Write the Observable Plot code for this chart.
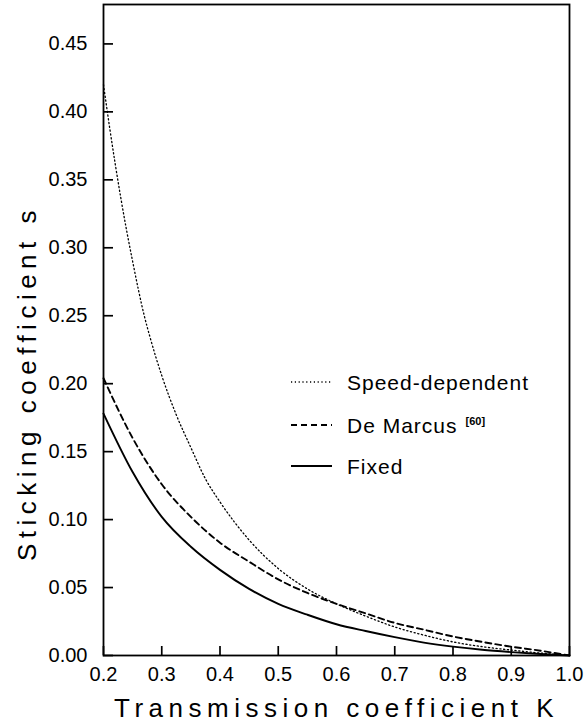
<!DOCTYPE html>
<html>
<head>
<meta charset="utf-8">
<script src="https://cdn.jsdelivr.net/npm/d3@7"></script>
<script src="https://cdn.jsdelivr.net/npm/@observablehq/plot@0.6"></script>
<style>
  html, body { margin: 0; padding: 0; background: #fff; }
  #chart { position: relative; width: 587px; height: 724px; }
</style>
</head>
<body>
<div id="chart"></div>
<script>
// ---- Data ----
const kGrid = [0.20, 0.25, 0.30, 0.35, 0.40, 0.45, 0.50, 0.55, 0.60, 0.65, 0.70, 0.75, 0.80, 0.85, 0.90, 0.95, 1.00];
const fixedS = [0.178, 0.135, 0.102, 0.080, 0.063, 0.049, 0.038, 0.030, 0.023, 0.018, 0.0135, 0.0095, 0.0065, 0.0042, 0.0025, 0.0011, 0];
const deMarcusS = [0.204, 0.160, 0.126, 0.102, 0.083, 0.069, 0.056, 0.046, 0.038, 0.031, 0.024, 0.019, 0.014, 0.010, 0.0065, 0.0035, 0];
const kSpeed = [0.20, 0.21, 0.22, 0.23, 0.24, 0.25, 0.26, 0.27, 0.28, 0.30, 0.325, 0.35, 0.375, 0.40, 0.45, 0.50, 0.55, 0.60, 0.65, 0.70, 0.75, 0.80, 0.85, 0.90, 0.95, 1.00];
const speedS = [0.420, 0.390, 0.362, 0.336, 0.312, 0.290, 0.269, 0.250, 0.234, 0.206, 0.177, 0.153, 0.130, 0.113, 0.085, 0.064, 0.049, 0.038, 0.029, 0.021, 0.015, 0.010, 0.0065, 0.004, 0.0018, 0];

const xTicks = [0.2, 0.3, 0.4, 0.5, 0.6, 0.7, 0.8, 0.9, 1.0];
const yTicks = [0.00, 0.05, 0.10, 0.15, 0.20, 0.25, 0.30, 0.35, 0.40, 0.45];
const xTitle = "Transmission coefficient K";
const yTitle = "Sticking coefficient s";
const legendLabels = ["Speed-dependent", "De Marcus", "Fixed"];
const legendRef = "[60]";

// tables built from the arrays
const fixedData = kGrid.map((k, i) => ({k, s: fixedS[i]}));
const deMarcusData = kGrid.map((k, i) => ({k, s: deMarcusS[i]}));
const speedData = kSpeed.map((k, i) => ({k, s: speedS[i]}));

// ---- Layout ----
const W = 587, H = 724;
const mT = 4, mB = 69, mL = 103, mR = 18;
const plotW = W - mL - mR, plotH = H - mT - mB;
const font = "'Liberation Sans', Arial, sans-serif";

const styles = {
  speed: {strokeDasharray: "1.2,2.6", strokeWidth: 1.3},
  demarcus: {strokeDasharray: "6,4", strokeWidth: 1.9},
  fixed: {strokeDasharray: null, strokeWidth: 1.9}
};

const chart = Plot.plot({
  width: W, height: H,
  marginTop: mT, marginBottom: mB, marginLeft: mL, marginRight: mR,
  style: {fontFamily: font, fontSize: "20px", color: "#000", background: "#fff"},
  x: {domain: [0.2, 1.0], ticks: xTicks, tickFormat: d3.format(".1f"), tickSize: 0, tickPadding: 11, label: null},
  y: {domain: [0, 0.479], ticks: yTicks, tickFormat: d3.format(".2f"), tickSize: 0, tickPadding: 16, label: null},
  marks: [
    Plot.line(speedData, {x: "k", y: "s", curve: "monotone-x", stroke: "#000", ...styles.speed}),
    Plot.line(deMarcusData, {x: "k", y: "s", curve: "monotone-x", stroke: "#000", ...styles.demarcus}),
    Plot.line(fixedData, {x: "k", y: "s", curve: "monotone-x", stroke: "#000", ...styles.fixed}),
    Plot.frame({stroke: "#000", strokeWidth: 1.8}),
    // inward ticks
    Plot.ruleX(xTicks, {x: d => d, insetTop: plotH - 9, stroke: "#000", strokeWidth: 1.7}),
    Plot.ruleY(yTicks, {y: d => d, insetRight: plotW - 10, stroke: "#000", strokeWidth: 1.7}),
    Plot.text([xTitle], {text: d => d, frameAnchor: "bottom", lineAnchor: "bottom", textAnchor: "middle", dy: 61, fontSize: 26, fill: "#000"}),
    Plot.text([yTitle], {text: d => d, frameAnchor: "left", textAnchor: "middle", lineAnchor: "middle", rotate: -90, dx: -76, dy: 53, fontSize: 26, fill: "#000"})
  ]
});

document.getElementById("chart").appendChild(chart);
const svg = d3.select(chart);

// letter spacing for the axis titles
svg.selectAll("text").filter(function() { return this.textContent === xTitle || this.textContent === yTitle; })
  .style("letter-spacing", "5.5px");

// ---- Legend (inside the plot) ----
const lg = svg.append("g").attr("font-family", font).attr("font-size", 21).attr("fill", "#000").attr("text-anchor", "start");
const rowY = [382, 425, 466];
const keys = ["speed", "demarcus", "fixed"];
legendLabels.forEach((lab, i) => {
  const st = styles[keys[i]];
  lg.append("line")
    .attr("x1", 291).attr("x2", 332).attr("y1", rowY[i]).attr("y2", rowY[i])
    .attr("stroke", "#000").attr("stroke-width", st.strokeWidth)
    .attr("stroke-dasharray", st.strokeDasharray);
  const t = lg.append("text").attr("x", 347).attr("y", rowY[i] + 7.5)
    .attr("text-anchor", "start")
    .style("letter-spacing", "1px").text(lab);
  if (i === 1) {
    const w = t.node().getComputedTextLength();
    lg.append("text").attr("x", 347 + w + 8).attr("y", rowY[i])
      .attr("text-anchor", "start")
      .attr("font-size", 11).attr("font-weight", "bold").text(legendRef);
  }
});
</script>
</body>
</html>
